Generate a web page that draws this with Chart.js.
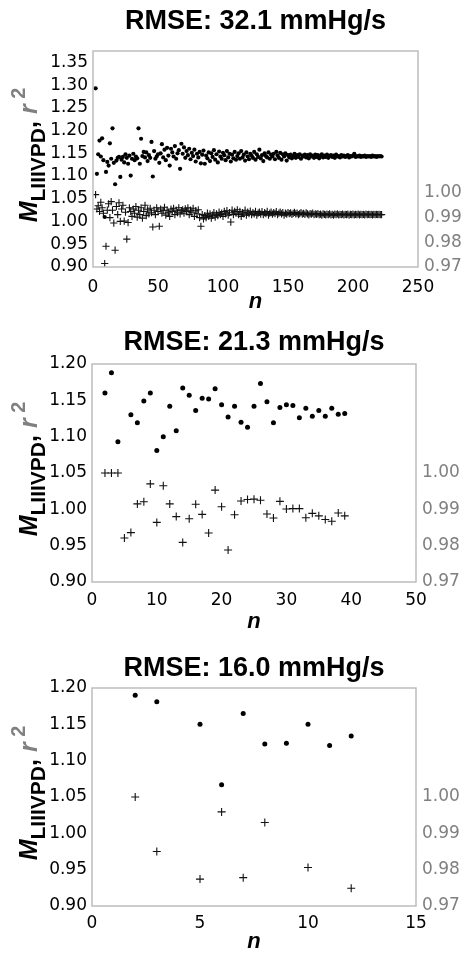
<!DOCTYPE html>
<html>
<head>
<meta charset="utf-8">
<script src="https://cdn.jsdelivr.net/npm/chart.js@4.4.1/dist/chart.umd.min.js"></script>
<style>
body { margin: 0; background: #fff; }
.panel { position: absolute; left: 0; width: 465px; }
</style>
</head>
<body>
<div class="panel" style="top:0;height:318px"><canvas id="rmse32"></canvas></div>
<div class="panel" style="top:318px;height:318px"><canvas id="rmse21"></canvas></div>
<div class="panel" style="top:636px;height:317px"><canvas id="rmse16"></canvas></div>
<script>
// ---- data: M_LIIIVPD (dots, left axis) and r^2 (crosses, right axis) vs n

// RMSE 32.1 : n = 2 .. 222
var n32 = [];
for (var i = 2; i <= 222; i++) n32.push(i);
var m32 = [
  1.293, 1.105, 1.148, 1.178, 1.143, 1.183, 1.135, 1.010, 1.109, 1.131,
  1.123, 1.172, 1.138, 1.205, 1.129, 1.082, 1.134, 1.140, 1.142, 1.098,
  1.136, 1.142, 1.130, 1.148, 1.140, 1.127, 1.145, 1.101, 1.138, 1.149,
  1.135, 1.143, 1.139, 1.205, 1.127, 1.182, 1.144, 1.153, 1.141, 1.152,
  1.133, 1.146, 1.140, 1.175, 1.099, 1.155, 1.138, 1.143, 1.148, 1.129,
  1.150, 1.170, 1.141, 1.158, 1.135, 1.162, 1.145, 1.123, 1.160, 1.152,
  1.143, 1.166, 1.138, 1.150, 1.157, 1.116, 1.171, 1.149, 1.163, 1.140,
  1.155, 1.146, 1.160, 1.137, 1.151, 1.144, 1.158, 1.132, 1.149, 1.141,
  1.153, 1.128, 1.147, 1.156, 1.127, 1.145, 1.139, 1.152, 1.133, 1.150,
  1.142, 1.157, 1.136, 1.148, 1.130, 1.154, 1.143, 1.138, 1.151, 1.146,
  1.135, 1.155, 1.141, 1.149, 1.132, 1.147, 1.139, 1.153, 1.136, 1.144,
  1.150, 1.138, 1.155, 1.141, 1.147, 1.134, 1.152, 1.143, 1.137, 1.149,
  1.145, 1.140, 1.153, 1.136, 1.148, 1.142, 1.158, 1.139, 1.146, 1.133,
  1.150, 1.144, 1.141, 1.152, 1.138, 1.147, 1.143, 1.149, 1.137, 1.153,
  1.145, 1.140, 1.151, 1.136, 1.148, 1.143, 1.150, 1.134, 1.146, 1.141,
  1.147, 1.139, 1.144, 1.149, 1.140, 1.146, 1.142, 1.148, 1.138, 1.145,
  1.143, 1.147, 1.141, 1.146, 1.139, 1.148, 1.143, 1.145, 1.140, 1.147,
  1.142, 1.146, 1.139, 1.144, 1.148, 1.141, 1.145, 1.142, 1.147, 1.140,
  1.144, 1.146, 1.142, 1.145, 1.140, 1.147, 1.143, 1.144, 1.141, 1.146,
  1.143, 1.145, 1.142, 1.144, 1.146, 1.141, 1.144, 1.143, 1.145, 1.149,
  1.142, 1.144, 1.143, 1.145, 1.142, 1.144, 1.143, 1.145, 1.142, 1.144,
  1.143, 1.144, 1.142, 1.145, 1.143, 1.144, 1.142, 1.144, 1.143, 1.144, 1.143
];
var r32 = [
  0.9993, 0.9935, 0.9948, 0.9925, 0.9962, 0.9940, 0.9918, 0.9714, 0.9784, 0.9930,
  0.9956, 0.9900, 0.9965, 0.9930, 0.9878, 0.9768, 0.9945, 0.9912, 0.9960, 0.9885,
  0.9935, 0.9950, 0.9886, 0.9922, 0.9813, 0.9880, 0.9940, 0.9925, 0.9905, 0.9935,
  0.9918, 0.9945, 0.9902, 0.9930, 0.9912, 0.9940, 0.9898, 0.9925, 0.9950, 0.9908,
  0.9932, 0.9915, 0.9938, 0.9920, 0.9862, 0.9930, 0.9912, 0.9940, 0.9925, 0.9865,
  0.9935, 0.9918, 0.9928, 0.9942, 0.9910, 0.9930, 0.9920, 0.9905, 0.9935, 0.9925,
  0.9938, 0.9912, 0.9930, 0.9920, 0.9940, 0.9915, 0.9928, 0.9932, 0.9918, 0.9936,
  0.9925, 0.9940, 0.9912, 0.9930, 0.9922, 0.9938, 0.9905, 0.9928, 0.9916, 0.9932,
  0.9900, 0.9865, 0.9912, 0.9895, 0.9908, 0.9900, 0.9918, 0.9905, 0.9915, 0.9898,
  0.9910, 0.9920, 0.9902, 0.9915, 0.9908, 0.9922, 0.9912, 0.9918, 0.9905, 0.9925,
  0.9915, 0.9928, 0.9910, 0.9920, 0.9882, 0.9930, 0.9912, 0.9925, 0.9918, 0.9932,
  0.9912, 0.9925, 0.9905, 0.9920, 0.9915, 0.9930, 0.9910, 0.9922, 0.9916, 0.9926,
  0.9912, 0.9920, 0.9915, 0.9925, 0.9910, 0.9918, 0.9922, 0.9914, 0.9924, 0.9912,
  0.9920, 0.9916, 0.9925, 0.9910, 0.9918, 0.9922, 0.9914, 0.9920, 0.9916, 0.9924,
  0.9912, 0.9918, 0.9922, 0.9915, 0.9920, 0.9910, 0.9918, 0.9914, 0.9920, 0.9916,
  0.9919, 0.9913, 0.9917, 0.9921, 0.9915, 0.9918, 0.9912, 0.9916, 0.9920, 0.9914,
  0.9917, 0.9913, 0.9919, 0.9915, 0.9911, 0.9916, 0.9914, 0.9918, 0.9912, 0.9915,
  0.9913, 0.9916, 0.9912, 0.9914, 0.9910, 0.9915, 0.9913, 0.9911, 0.9914, 0.9912,
  0.9915, 0.9911, 0.9913, 0.9910, 0.9914, 0.9912, 0.9915, 0.9911, 0.9913, 0.9912,
  0.9914, 0.9911, 0.9913, 0.9912, 0.9914, 0.9910, 0.9913, 0.9912, 0.9914, 0.9911,
  0.9913, 0.9912, 0.9914, 0.9911, 0.9913, 0.9912, 0.9913, 0.9911, 0.9914, 0.9912,
  0.9913, 0.9912, 0.9913, 0.9911, 0.9913, 0.9912, 0.9913, 0.9912, 0.9913, 0.9912, 0.9912
];

// RMSE 21.3
var nDots21 = [2, 3, 4, 6, 7, 8, 9, 10, 11, 12, 13, 14, 15, 16, 17, 18, 19, 20, 21, 22,
  23, 24, 25, 26, 27, 28, 29, 30, 31, 32, 33, 34, 35, 36, 37, 38, 39];
var m21 = [1.160, 1.188, 1.093, 1.130, 1.119, 1.149, 1.160, 1.081, 1.100, 1.142,
  1.108, 1.167, 1.157, 1.136, 1.153, 1.152, 1.166, 1.144, 1.127, 1.142,
  1.120, 1.113, 1.142, 1.173, 1.148, 1.119, 1.140, 1.144, 1.143, 1.126,
  1.139, 1.128, 1.136, 1.128, 1.139, 1.131, 1.132];
var nCross21 = [2, 3, 4, 5, 6, 7, 8, 9, 10, 11, 12, 13, 14, 15, 16, 17, 18, 19, 20, 21,
  22, 23, 24, 25, 26, 27, 28, 29, 30, 31, 32, 33, 34, 35, 36, 37, 38, 39];
var r21 = [1.000, 1.000, 1.000, 0.9821, 0.9836, 0.9915, 0.9921, 0.9970, 0.9864, 0.9965,
  0.9915, 0.9880, 0.9809, 0.9874, 0.9914, 0.9886, 0.9835, 0.9953, 0.9907, 0.9788,
  0.9885, 0.9923, 0.9927, 0.9928, 0.9925, 0.9887, 0.9876, 0.9922, 0.9901, 0.9902,
  0.9902, 0.9877, 0.9889, 0.9882, 0.9872, 0.9867, 0.9890, 0.9882];

// RMSE 16.0
var nDots16 = [2, 3, 5, 6, 7, 8, 9, 10, 11, 12];
var m16 = [1.190, 1.181, 1.150, 1.067, 1.165, 1.123, 1.124, 1.150, 1.121, 1.134];
var nCross16 = [2, 3, 5, 6, 7, 8, 10, 12];
var r16 = [1.000, 0.985, 0.9774, 0.9959, 0.9778, 0.9930, 0.9806, 0.9749];

var GREY = '#808080';
var FONT = '"Liberation Sans", Arial, sans-serif';
var tickFont = { family: '"DejaVu Sans", Verdana, sans-serif', size: 17 };

function pts(xs, ys) {
  return xs.map(function (x, k) { return { x: x, y: ys[k] }; });
}

// title, y axis title (two colours, sub/superscript) and the grey frame
var panelText = {
  id: 'panelText',
  afterDraw: function (chart, args, opts) {
    var c = chart.ctx, a = chart.chartArea;
    c.save();
    c.strokeStyle = '#bdbdbd';
    c.lineWidth = 1.5;
    c.strokeRect(a.left, a.top, a.right - a.left, a.bottom - a.top);

    c.font = 'bold 27px ' + FONT;
    c.fillStyle = '#000';
    c.textAlign = 'center';
    c.textBaseline = 'middle';
    c.fillText(opts.title, (a.left + a.right) / 2, opts.titleY);

    var parts = [
      ['M', 'italic bold 25px ' + FONT, '#000', 0],
      ['LIIIVPD', 'bold 21px ' + FONT, '#000', 8],
      [', ', 'bold 25px ' + FONT, '#000', 0],
      ['r', 'italic bold 25px ' + FONT, GREY, 0],
      [' 2', 'bold 20px ' + FONT, GREY, -12]
    ];
    var total = 0;
    parts.forEach(function (p) { c.font = p[1]; p.push(c.measureText(p[0]).width); total += p[4]; });
    c.translate(37, (a.top + a.bottom) / 2 - 4 + total / 2);
    c.rotate(-Math.PI / 2);
    c.textAlign = 'left';
    c.textBaseline = 'alphabetic';
    var x = 0;
    parts.forEach(function (p) {
      c.font = p[1]; c.fillStyle = p[2];
      c.fillText(p[0], x, p[3]);
      x += p[4];
    });
    c.restore();
  }
};

function makePanel(id, p) {
  return new Chart(document.getElementById(id), {
    type: 'scatter',
    data: {
      datasets: [
        {
          label: 'M', data: p.dots, yAxisID: 'y',
          pointStyle: 'circle', pointRadius: p.dotR, pointBorderWidth: 0,
          backgroundColor: '#000', borderColor: '#000'
        },
        {
          label: 'r2', data: p.cross, yAxisID: 'y2',
          pointStyle: 'cross', pointRadius: p.crossR, pointBorderWidth: 1.1, borderWidth: 1.1,
          borderColor: '#111', backgroundColor: '#111'
        }
      ]
    },
    options: {
      responsive: true,
      maintainAspectRatio: false,
      animation: false,
      layout: { padding: { top: p.top, left: 0, right: 0, bottom: 0 } },
      plugins: {
        legend: { display: false },
        tooltip: { enabled: false },
        panelText: { title: p.title, titleY: p.titleY }
      },
      scales: {
        x: {
          type: 'linear', min: 0, max: p.xMax,
          grid: { display: false, drawTicks: false }, border: { display: false },
          ticks: { stepSize: p.xStep, padding: p.xPad, font: tickFont, color: '#000', maxRotation: 0, autoSkip: false },
          title: { display: true, text: 'n', color: '#000',
            font: { family: FONT, size: 22, style: 'italic', weight: 'bold', lineHeight: 1 },
            padding: { top: 0, bottom: p.nPad } },
          afterFit: function (s) { s.height = p.bottom; }
        },
        y: {
          type: 'linear', position: 'left', min: 0.9, max: p.yMax,
          grid: { display: false, drawTicks: false }, border: { display: false },
          ticks: { stepSize: 0.05, includeBounds: false, padding: 5, font: tickFont, color: '#000', autoSkip: false,
            callback: function (v) { return v.toFixed(2); } },
          afterFit: function (s) { s.width = p.leftW; }
        },
        y2: {
          type: 'linear', position: 'right', min: 0.97, max: p.rMax,
          grid: { display: false, drawTicks: false }, border: { display: false },
          ticks: { stepSize: 0.01, includeBounds: false, padding: 6, font: tickFont, color: GREY, autoSkip: false,
            callback: function (v) { return v <= 1.0001 ? v.toFixed(2) : ''; } },
          afterFit: function (s) { s.width = p.rightW; }
        }
      }
    },
    plugins: [panelText]
  });
}

makePanel('rmse32', {
  title: 'RMSE: 32.1 mmHg/s', titleY: 22, top: 51, bottom: 51, leftW: 93, rightW: 47,
  xMax: 250, xStep: 50, xPad: 10, nPad: 5, yMax: 1.375, rMax: 1.0575, dotR: 2.1, crossR: 3.6,
  dots: pts(n32, m32), cross: pts(n32, r32)
});
makePanel('rmse21', {
  title: 'RMSE: 21.3 mmHg/s', titleY: 25, top: 46, bottom: 54, leftW: 92, rightW: 49,
  xMax: 50, xStep: 10, xPad: 8, nPad: 3, yMax: 1.2, rMax: 1.03, dotR: 2.5, crossR: 4,
  dots: pts(nDots21, m21), cross: pts(nCross21, r21)
});
makePanel('rmse16', {
  title: 'RMSE: 16.0 mmHg/s', titleY: 33, top: 52, bottom: 47, leftW: 92, rightW: 49,
  xMax: 15, xStep: 5, xPad: 7, nPad: 0, yMax: 1.2, rMax: 1.03, dotR: 2.5, crossR: 4,
  dots: pts(nDots16, m16), cross: pts(nCross16, r16)
});
</script>
</body>
</html>
